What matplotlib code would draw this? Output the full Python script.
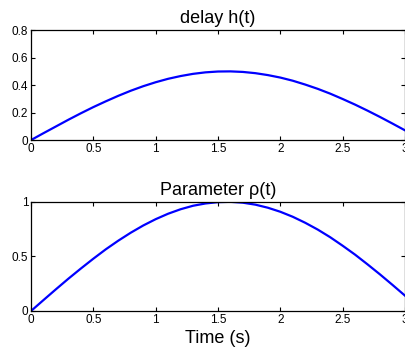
import matplotlib
matplotlib.use('Agg')
import matplotlib.pyplot as plt

plt.rcParams['font.family'] = ['Liberation Sans', 'DejaVu Sans']

# sampled time points (s)
t = [0.0, 0.1, 0.2, 0.3, 0.4, 0.5, 0.6, 0.7, 0.8, 0.9, 1.0,
     1.1, 1.2, 1.3, 1.4, 1.5, 1.6, 1.7, 1.8, 1.9, 2.0,
     2.1, 2.2, 2.3, 2.4, 2.5, 2.6, 2.7, 2.8, 2.9, 3.0]

# delay h(t)
h = [0.0, 0.05, 0.099, 0.148, 0.195, 0.24, 0.282, 0.322, 0.359, 0.392, 0.421,
     0.446, 0.466, 0.482, 0.493, 0.499, 0.5, 0.496, 0.487, 0.473, 0.455,
     0.432, 0.404, 0.373, 0.338, 0.299, 0.258, 0.214, 0.168, 0.12, 0.071]

# parameter rho(t)
rho = [0.0, 0.1, 0.199, 0.296, 0.389, 0.479, 0.565, 0.644, 0.717, 0.783, 0.841,
       0.891, 0.932, 0.964, 0.985, 0.997, 1.0, 0.992, 0.974, 0.946, 0.909,
       0.863, 0.808, 0.746, 0.676, 0.598, 0.516, 0.427, 0.335, 0.239, 0.141]

xticks = [0, 0.5, 1, 1.5, 2, 2.5, 3]
xticklabels = ['0', '0.5', '1', '1.5', '2', '2.5', '3']

fig = plt.figure(figsize=(4.06, 3.51), dpi=100)
ax1 = fig.add_axes([0.0764, 0.601, 0.921, 0.313])
ax2 = fig.add_axes([0.0764, 0.114, 0.921, 0.311])

for ax in (ax1, ax2):
    ax.set_xlim(0, 3)
    ax.set_xticks(xticks)
    ax.set_xticklabels(xticklabels)
    ax.tick_params(direction='in', top=True, right=True, length=3,
                   width=0.8, labelsize=8.5, pad=2)
    for s in ax.spines.values():
        s.set_linewidth(0.9)

ax1.plot(t, h, color='#0000ff', lw=1.6)
ax1.set_ylim(0, 0.8)
ax1.set_yticks([0, 0.2, 0.4, 0.6, 0.8])
ax1.set_yticklabels(['0', '0.2', '0.4', '0.6', '0.8'])
ax1.set_title('delay h(t)', fontsize=13, pad=5)

ax2.plot(t, rho, color='#0000ff', lw=1.6)
ax2.set_ylim(0, 1)
ax2.set_yticks([0, 0.5, 1])
ax2.set_yticklabels(['0', '0.5', '1'])
ax2.set_title('Parameter \u03c1(t)', fontsize=13, pad=5)
ax2.set_xlabel('Time (s)', fontsize=13, labelpad=3)

fig.savefig('out.png', dpi=100)
